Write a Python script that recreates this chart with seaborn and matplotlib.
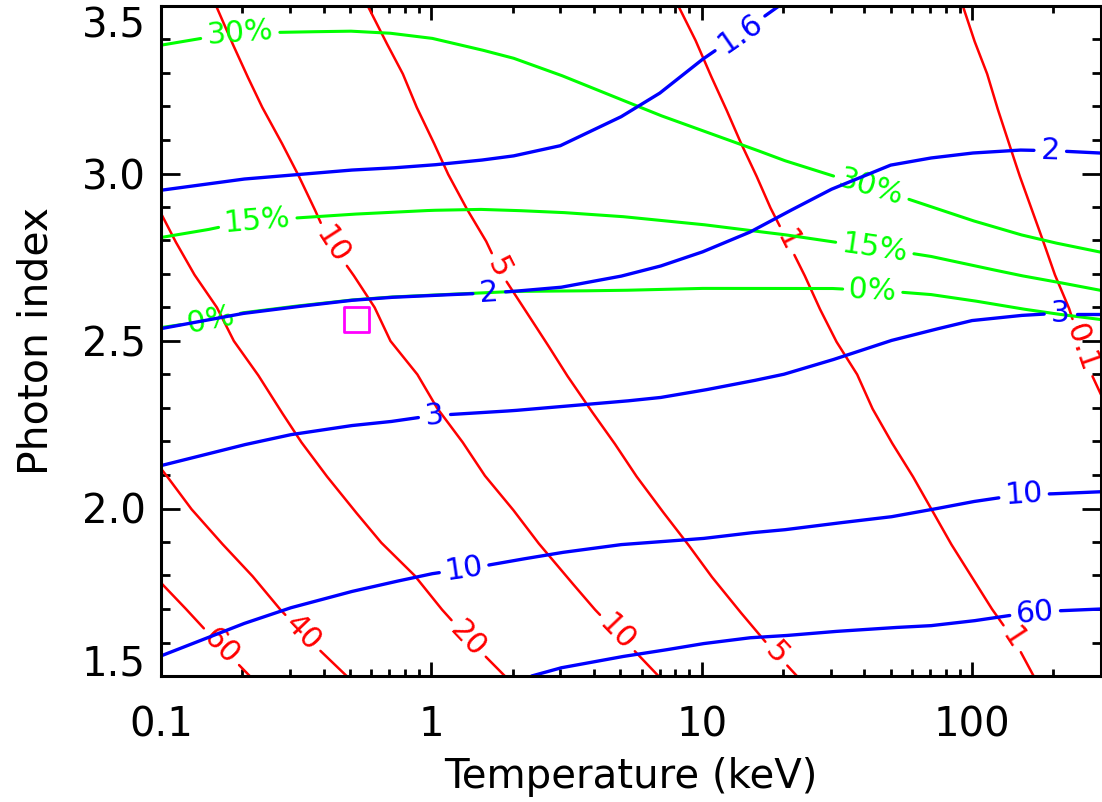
import numpy as np
import pandas as pd
import matplotlib
matplotlib.use("Agg")
import matplotlib.pyplot as plt
import seaborn as sns
from matplotlib.ticker import FixedLocator, FixedFormatter, NullFormatter

# ---------------- data ----------------
# Blue contours (x = temperature keV, y = photon index)
blue16_T = [0.1, 0.2, 0.3, 0.5, 0.7, 1, 1.5, 2, 3, 5, 7, 10, 15, 19.7]
blue16_G = [2.950, 2.983, 2.995, 3.010, 3.016, 3.025, 3.039, 3.052, 3.083, 3.168, 3.240, 3.339, 3.437, 3.505]

Tgrid = [0.1, 0.2, 0.3, 0.5, 0.7, 1, 1.5, 2, 3, 5, 7, 10, 15, 20, 30, 50, 70, 100, 150, 200, 300]
blue2_G = [2.537, 2.582, 2.600, 2.621, 2.630, 2.636, 2.642, 2.648, 2.660, 2.693, 2.723, 2.765, 2.824, 2.878,
           2.952, 3.025, 3.046, 3.061, 3.070, 3.068, 3.061]
blue3_G = [2.128, 2.189, 2.220, 2.247, 2.259, 2.277, 2.286, 2.292, 2.304, 2.319, 2.331, 2.352, 2.379, 2.400,
           2.442, 2.501, 2.531, 2.561, 2.576, 2.582, 2.582]
blue10_G = [1.560, 1.655, 1.703, 1.751, 1.778, 1.805, 1.826, 1.844, 1.868, 1.892, 1.901, 1.910, 1.927, 1.936,
            1.954, 1.975, 1.996, 2.020, 2.041, 2.044, 2.050]
blue60_T = [2.35, 3, 5, 7, 10, 15, 20, 30, 50, 70, 100, 150, 200, 300]
blue60_G = [1.500, 1.524, 1.557, 1.575, 1.596, 1.614, 1.620, 1.632, 1.644, 1.650, 1.664, 1.685, 1.694, 1.700]

# Green contours
Tgrid_g = [0.1, 0.15, 0.2, 0.3, 0.5, 0.7, 1, 1.5, 2, 3, 5, 7, 10, 15, 20, 30, 50, 70, 100, 150, 200, 300]
green30_G = [3.383, 3.407, 3.419, 3.422, 3.425, 3.419, 3.404, 3.371, 3.345, 3.294, 3.222, 3.174, 3.129, 3.078,
             3.040, 2.995, 2.941, 2.902, 2.860, 2.818, 2.794, 2.765]
green15_G = [2.809, 2.833, 2.854, 2.866, 2.878, 2.884, 2.890, 2.893, 2.890, 2.884, 2.872, 2.860, 2.848, 2.830,
             2.818, 2.797, 2.771, 2.753, 2.726, 2.696, 2.678, 2.651]
green0_G = [2.540, 2.561, 2.584, 2.602, 2.622, 2.631, 2.637, 2.643, 2.648, 2.649, 2.651, 2.654, 2.657, 2.657,
            2.657, 2.657, 2.648, 2.639, 2.621, 2.597, 2.582, 2.564]

# Red contours (sampled along photon index)
red60_G = [1.778, 1.7, 1.6, 1.5]
red60_T = [0.1, 0.1237, 0.161, 0.213]
red40_G = [2.119, 2.1, 2.0, 1.9, 1.8, 1.7, 1.6, 1.5]
red40_T = [0.1, 0.1044, 0.129, 0.166, 0.217, 0.275, 0.361, 0.486]
red20_G = [2.881, 2.8, 2.7, 2.6, 2.5, 2.4, 2.3, 2.2, 2.1, 2.0, 1.9, 1.8, 1.7, 1.6, 1.5]
red20_T = [0.1, 0.1126, 0.1324, 0.161, 0.186, 0.228, 0.273, 0.329, 0.407, 0.512, 0.649, 0.867, 1.09, 1.41, 1.87]
Ggrid = [3.5, 3.4, 3.3, 3.2, 3.1, 3.0, 2.9, 2.8, 2.7, 2.6, 2.5, 2.4, 2.3, 2.2, 2.1, 2.0, 1.9, 1.8, 1.7, 1.6, 1.5]
red10_T = [0.160, 0.181, 0.206, 0.236, 0.276, 0.320, 0.367, 0.417, 0.512, 0.617, 0.706, 0.888, 1.05, 1.30,
           1.57, 1.99, 2.47, 3.14, 4.01, 5.27, 6.92]
red5_T = [0.582, 0.672, 0.782, 0.88, 1.01, 1.15, 1.34, 1.59, 1.82, 2.19, 2.64, 3.16, 3.84, 4.71, 5.69, 7.03,
          8.77, 10.8, 13.6, 17.3, 22.5]
red1_T = [8.2, 9.46, 10.7, 12.2, 13.8, 15.8, 17.9, 20.7, 23.9, 27.2, 31.4, 37.6, 42.7, 50.2, 60, 70.5, 82.8,
          99, 118.5, 145, 169]
red01_G = [3.5, 3.4, 3.3, 3.2, 3.1, 3.0, 2.9, 2.8, 2.7, 2.6, 2.5, 2.4, 2.34]
red01_T = [92.5, 101.6, 113.5, 123.6, 135.8, 149, 165, 183, 202, 228, 250, 277, 300]

# Source position (magenta square)
src_T = [0.528]
src_G = [2.565]

# x / y ticks
xmajor = [0.1, 1, 10, 100]
xmajor_labels = ["0.1", "1", "10", "100"]
ymajor = [1.5, 2.0, 2.5, 3.0, 3.5]
ymajor_labels = ["1.5", "2.0", "2.5", "3.0", "3.5"]

# contours: (T, G, colour, [(label, label position, along-axis)])
BLUE, GREEN, RED = "#0000ff", "#00ff00", "#ff0000"
contours = [
    (red60_T, red60_G, RED, [("60", 1.587, 1)]),
    (red40_T, red40_G, RED, [("40", 1.629, 1)]),
    (red20_T, red20_G, RED, [("20", 1.611, 1)]),
    (red10_T, Ggrid, RED, [("10", 2.786, 1), ("10", 1.629, 1)]),
    (red5_T, Ggrid, RED, [("5", 2.720, 1), ("5", 1.566, 1)]),
    (red1_T, Ggrid, RED, [("1", 2.800, 1), ("1", 1.611, 1)]),
    (red01_T, red01_G, RED, [("0.1", 2.48, 1)]),
    (Tgrid_g, green30_G, GREEN, [("30%", 0.196, 0), ("30%", 42.4, 0)]),
    (Tgrid_g, green15_G, GREEN, [("15%", 0.228, 0), ("15%", 43.5, 0)]),
    (Tgrid_g, green0_G, GREEN, [("0%", 0.153, 0), ("0%", 43.0, 0)]),
    (blue16_T, blue16_G, BLUE, [("1.6", 13.9, 0)]),
    (Tgrid, blue2_G, BLUE, [("2", 1.64, 0), ("2", 195, 0)]),
    (Tgrid, blue3_G, BLUE, [("3", 1.03, 0), ("3", 213, 0)]),
    (Tgrid, blue10_G, BLUE, [("10", 1.32, 0), ("10", 155, 0)]),
    (blue60_T, blue60_G, BLUE, [("60", 171, 0)]),
]
zorders = {RED: 2.0, GREEN: 2.1, BLUE: 2.2}
lws = {RED: 1.8, GREEN: 2.2, BLUE: 2.4}

# ---------------- figure ----------------
sns.set_style("ticks")
plt.rcParams["font.family"] = ["DejaVu Sans"]
for key in ["text.color", "axes.labelcolor", "xtick.color", "ytick.color", "axes.edgecolor"]:
    plt.rcParams[key] = "black"

fig = plt.figure(figsize=(11.02, 8.02), dpi=100)
ax = fig.add_axes([161 / 1102, 1 - 676 / 802, 940 / 1102, 670 / 802])
ax.set_xscale("log")
ax.set_xlim(0.1, 300)
ax.set_ylim(1.5, 3.5)
renderer = fig.canvas.get_renderer()


def densify(P, step=1.0):
    out = [P[0]]
    for a, b in zip(P[:-1], P[1:]):
        n = max(int(np.hypot(*(b - a)) / step), 1)
        t = np.linspace(0, 1, n + 1)[1:]
        out.extend(a + (b - a) * t[:, None])
    return np.array(out)


inv = ax.transData.inverted()
rows = []
seg_id = 0
for T, G, col, labels in contours:
    D = densify(ax.transData.transform(np.column_stack([T, G])))
    keep = np.ones(len(D), bool)
    for txt, pos, axis in labels:
        if axis == 0:
            target = ax.transData.transform((pos, 2.5))[0]
        else:
            target = ax.transData.transform((1.0, pos))[1]
        i = int(np.argmin(np.abs(D[:, axis] - target)))
        k = 12
        d = D[min(i + k, len(D) - 1)] - D[max(i - k, 0)]
        if d[0] < 0:
            d = -d
        ang = np.degrees(np.arctan2(d[1], d[0]))
        cx, cy = inv.transform(D[i])
        t = ax.text(cx, cy, txt, color=col, fontsize=21.5, ha="center", va="center",
                    rotation=0, rotation_mode="anchor", zorder=zorders[col] + 0.05)
        w = t.get_window_extent(renderer).width
        t.set_rotation(ang)
        r = w / 2 + 6
        keep &= np.hypot(D[:, 0] - D[i, 0], D[:, 1] - D[i, 1]) > r
    # split into visible segments
    idx = np.where(keep)[0]
    if len(idx) == 0:
        continue
    breaks = np.where(np.diff(idx) > 1)[0]
    starts = np.concatenate([[0], breaks + 1])
    ends = np.concatenate([breaks, [len(idx) - 1]])
    for s, e in zip(starts, ends):
        seg = idx[s:e + 1]
        if len(seg) < 2:
            continue
        xy = inv.transform(D[seg])
        for n, (x, y) in enumerate(xy):
            rows.append((col, seg_id, n, x, y))
        seg_id += 1

df = pd.DataFrame(rows, columns=["color", "seg", "order", "T", "G"])
for col in [RED, GREEN, BLUE]:
    sub = df[df["color"] == col]
    sns.lineplot(data=sub, x="T", y="G", units="seg", estimator=None, sort=False,
                 color=col, lw=lws[col], ax=ax, legend=False, zorder=zorders[col])

sns.scatterplot(x=src_T, y=src_G, marker="s", s=18 ** 2, facecolor="none",
                edgecolor="#ff00ff", linewidth=2.0, ax=ax, zorder=3, legend=False)

ax.set_xlim(0.1, 300)
ax.set_ylim(1.5, 3.5)

# ticks
ax.xaxis.set_major_locator(FixedLocator(xmajor))
ax.xaxis.set_major_formatter(FixedFormatter(xmajor_labels))
xminor = [m * d for d in [0.1, 1, 10, 100] for m in range(2, 10) if m * d < 300]
ax.xaxis.set_minor_locator(FixedLocator(xminor))
ax.xaxis.set_minor_formatter(NullFormatter())
ax.yaxis.set_major_locator(FixedLocator(ymajor))
ax.yaxis.set_major_formatter(FixedFormatter(ymajor_labels))
ax.yaxis.set_minor_locator(FixedLocator(np.arange(1.5, 3.51, 0.1)))

ax.tick_params(which="both", direction="in", top=True, right=True, width=2.0, color="black",
               labelcolor="black")
ax.tick_params(axis="x", which="major", length=10, pad=21, labelsize=29)
ax.tick_params(axis="x", which="minor", length=5)
ax.tick_params(axis="y", which="major", length=13.5, pad=11, labelsize=29)
ax.tick_params(axis="y", which="minor", length=6.8)
for sp in ax.spines.values():
    sp.set_linewidth(2.2)
    sp.set_color("black")

yt = ax.yaxis.get_major_ticks()
yt[0].label1.set_va("baseline")
yt[-1].label1.set_va("top")

ax.set_xlabel("Temperature (keV)", fontsize=29, color="black")
ax.set_ylabel("Photon index", fontsize=29.5, color="black")
ax.xaxis.set_label_coords(0.5, -0.121)
ax.yaxis.set_label_coords(-0.111, 0.5)

fig.savefig("out.png", dpi=100)
